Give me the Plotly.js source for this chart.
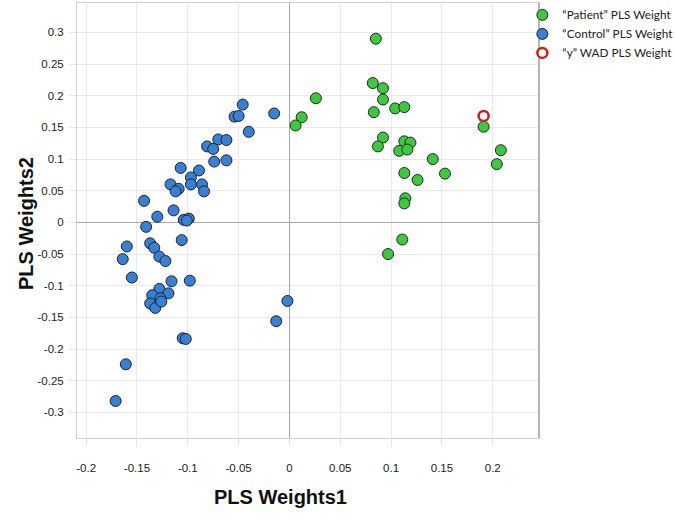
<!DOCTYPE html>
<html>
<head>
<meta charset="utf-8">
<script src="https://cdn.plot.ly/plotly-3.0.1.min.js"></script>
<style>html,body{margin:0;padding:0;background:#fff;}#chart{width:675px;height:519px;}</style>
</head>
<body>
<div id="chart"></div>
<script>
// Data
const patientX = [0.085, 0.082, 0.092, 0.092, 0.083, 0.104, 0.113, 0.026, 0.012, 0.006, 0.092, 0.087, 0.113, 0.119, 0.108, 0.116, 0.141, 0.153, 0.113, 0.126, 0.114, 0.113, 0.111, 0.097, 0.191, 0.208, 0.204];
const patientY = [0.290, 0.220, 0.212, 0.194, 0.174, 0.180, 0.182, 0.196, 0.166, 0.153, 0.134, 0.120, 0.128, 0.126, 0.113, 0.115, 0.100, 0.077, 0.078, 0.067, 0.038, 0.030, -0.027, -0.050, 0.151, 0.114, 0.092];

const controlX = [-0.046, -0.054, -0.050, -0.040, -0.070, -0.062, -0.081, -0.075, -0.074, -0.062, -0.107, -0.089, -0.097, -0.097, -0.117, -0.109, -0.112, -0.086, -0.084, -0.143, -0.114, -0.130, -0.104, -0.099, -0.101, -0.141, -0.015,
  -0.160, -0.164, -0.137, -0.133, -0.128, -0.122, -0.106, -0.155, -0.116, -0.098,
  -0.128, -0.135, -0.119, -0.127, -0.137, -0.132, -0.126,
  -0.105, -0.102, -0.161, -0.171, -0.013, -0.002];
const controlY = [0.186, 0.167, 0.168, 0.143, 0.131, 0.130, 0.120, 0.116, 0.096, 0.098, 0.086, 0.082, 0.071, 0.060, 0.060, 0.053, 0.049, 0.060, 0.049, 0.034, 0.019, 0.009, 0.004, 0.006, 0.003, -0.007, 0.172,
  -0.038, -0.058, -0.033, -0.040, -0.054, -0.061, -0.028, -0.087, -0.093, -0.092,
  -0.105, -0.115, -0.112, -0.120, -0.128, -0.135, -0.125,
  -0.183, -0.184, -0.224, -0.282, -0.156, -0.124];

const wadX = [0.191];
const wadY = [0.168];

const xTickVals = [-0.2, -0.15, -0.1, -0.05, 0, 0.05, 0.1, 0.15, 0.2];
const xTickText = ["-0.2", "-0.15", "-0.1", "-0.05", "0", "0.05", "0.1", "0.15", "0.2"];
const yTickVals = [-0.3, -0.25, -0.2, -0.15, -0.1, -0.05, 0, 0.05, 0.1, 0.15, 0.2, 0.25, 0.3];
const yTickText = ["-0.3", "-0.25", "-0.2", "-0.15", "-0.1", "-0.05", "0", "0.05", "0.1", "0.15", "0.2", "0.25", "0.3"];

const traces = [
  {x: patientX, y: patientY, type: 'scatter', mode: 'markers', name: '\u201cPatient\u201d PLS Weight',
   marker: {size: 11, color: '#3fc83f', line: {color: '#1e2a1e', width: 1}}},
  {x: controlX, y: controlY, type: 'scatter', mode: 'markers', name: '\u201cControl\u201d PLS Weight',
   marker: {size: 11, color: '#3a80d2', line: {color: '#1a2230', width: 1}}},
  {x: wadX, y: wadY, type: 'scatter', mode: 'markers', name: '\u201cy\u201d WAD PLS Weight',
   marker: {size: 10, color: '#ffffff', line: {color: '#c0261c', width: 2.5}}}
];

const axisCommon = {
  showgrid: true, gridcolor: '#e9e9e9', gridwidth: 1,
  zeroline: true, zerolinecolor: '#a8a8a8', zerolinewidth: 1.5,
  showline: true, linecolor: '#cfcfcf', linewidth: 1, mirror: true,
  ticks: 'outside', ticklen: 7, tickcolor: '#e6e6e6', tickwidth: 1,
  tickmode: 'array',
  tickfont: {family: 'Liberation Sans, Arial, sans-serif', size: 11.5, color: '#1a1a1a'},
  fixedrange: true
};

const layout = {
  width: 675, height: 519,
  margin: {l: 77, r: 136, t: 3, b: 81, autoexpand: false},
  paper_bgcolor: '#ffffff', plot_bgcolor: '#ffffff',
  showlegend: true,
  legend: {x: 0.964, xanchor: 'left', y: 1.006, yanchor: 'top',
    font: {family: 'Lato, Open Sans, sans-serif', size: 11.8, color: '#222'},
    bgcolor: 'rgba(0,0,0,0)', itemwidth: 30, tracegroupgap: 0},
  xaxis: Object.assign({}, axisCommon, {
    range: [-0.209, 0.2455], tickvals: xTickVals, ticktext: xTickText, ticklabelstandoff: 12
  }),
  yaxis: Object.assign({}, axisCommon, {
    range: [-0.3404, 0.3464], tickvals: yTickVals, ticktext: yTickText, ticklabelstandoff: 3
  }),
  shapes: [
    {type: 'line', xref: 'paper', yref: 'paper', x0: 1, x1: 1, y0: 0, y1: 1,
     line: {color: '#b4b4b4', width: 2}}
  ],
  annotations: [
    {text: '<b>PLS Weights1</b>', xref: 'paper', yref: 'paper', x: (280 - 77) / 462, y: -(497 - 438) / 435,
     xanchor: 'center', yanchor: 'middle', showarrow: false,
     font: {family: 'Liberation Sans, Arial, sans-serif', size: 20, color: '#111'}},
    {text: '<b>PLS Weights2</b>', xref: 'paper', yref: 'paper', x: (26 - 77) / 462, y: (438 - 224) / 435,
     xanchor: 'center', yanchor: 'middle', showarrow: false, textangle: -90,
     font: {family: 'Liberation Sans, Arial, sans-serif', size: 20, color: '#111'}}
  ]
};

Plotly.newPlot('chart', traces, layout, {displayModeBar: false, staticPlot: true});
</script>
</body>
</html>
